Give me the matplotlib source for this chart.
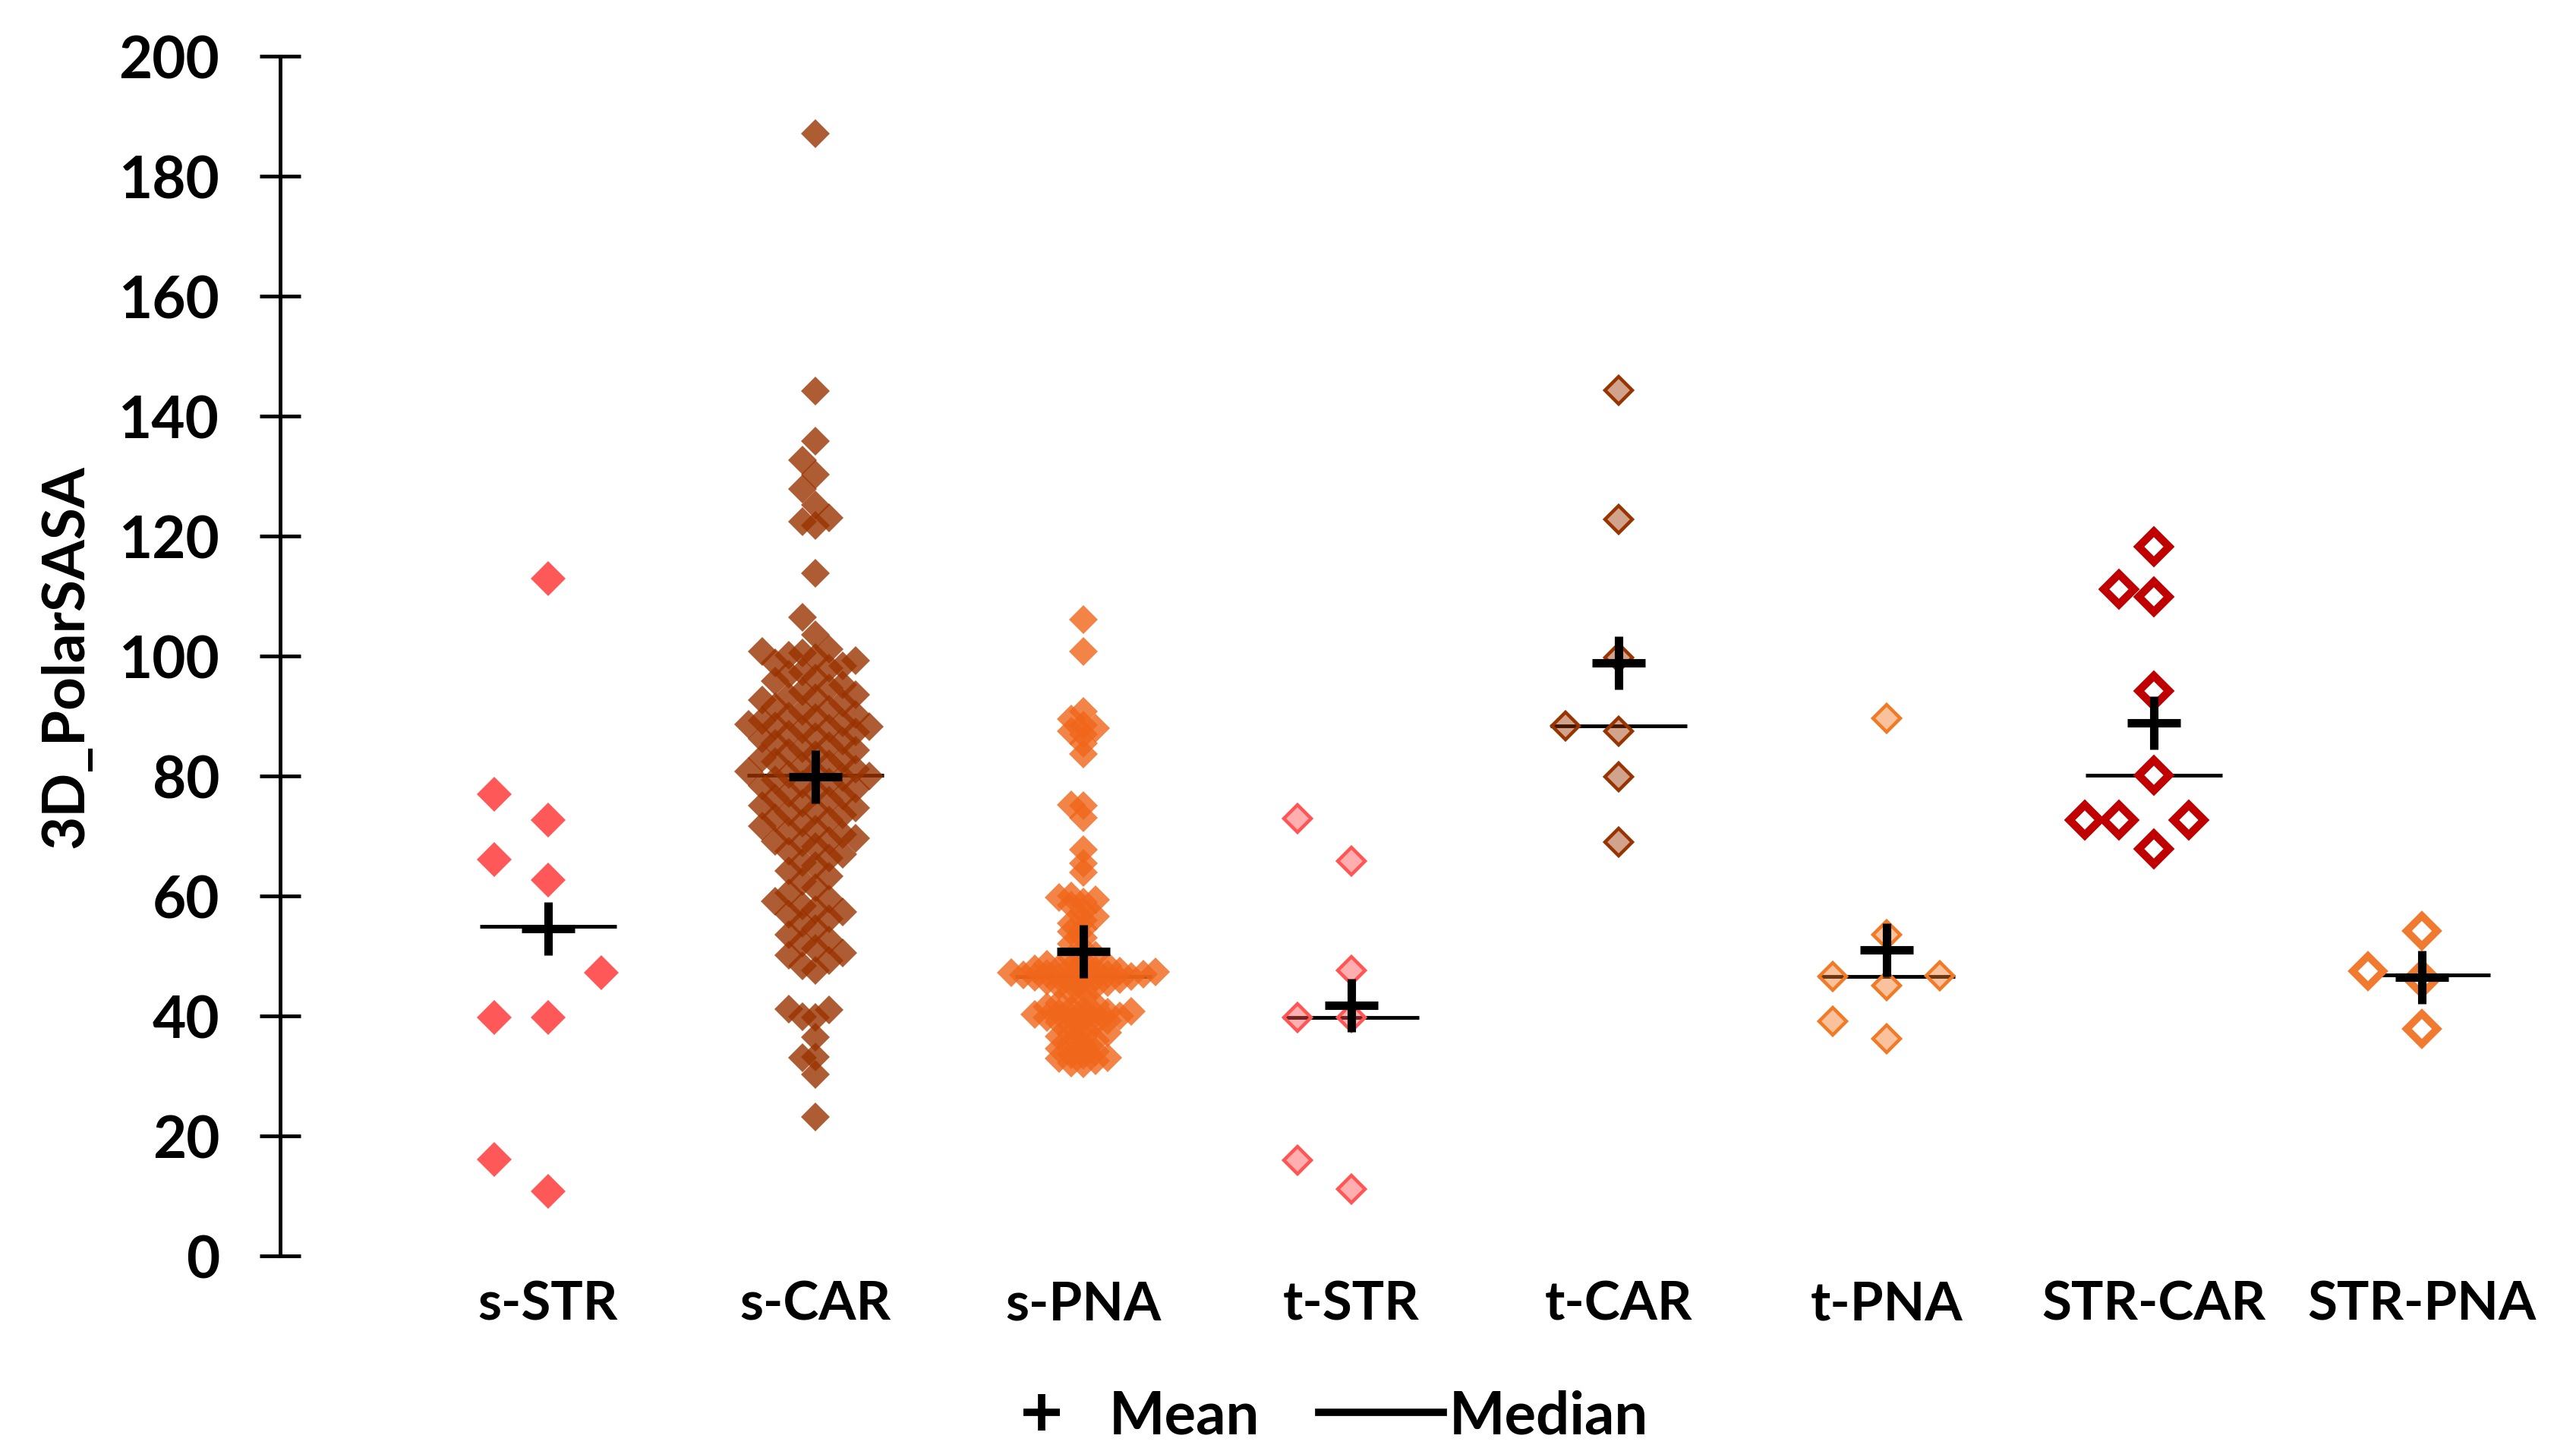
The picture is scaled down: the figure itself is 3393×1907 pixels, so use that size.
import numpy as np
import matplotlib
matplotlib.use('Agg')
import matplotlib.pyplot as plt
from matplotlib.lines import Line2D

plt.rcParams['font.family'] = ['Lato', 'DejaVu Sans']
plt.rcParams['font.weight'] = 'bold'

categories = ['s-STR', 's-CAR', 's-PNA', 't-STR', 't-CAR', 't-PNA', 'STR-CAR', 'STR-PNA']

s_str = [112.9, 77.0, 72.7, 66.1, 62.6, 47.2, 39.8, 39.8, 16.1, 10.8]

s_car = [187.1, 144.2, 135.8, 132.7, 130.3, 127.8, 125.2, 123.0, 122.4, 121.8, 113.8, 106.5, 103.6,
         101.2, 100.8, 100.5, 100.1, 99.7, 99.2, 98.8, 98.3, 98.0, 97.4, 96.9, 96.3, 95.8, 95.2,
         94.7, 94.1, 93.6, 93.3, 93.0, 92.6, 92.1, 91.5, 91.2, 90.8, 90.3, 90.0,
         89.7, 89.3, 88.9, 88.6, 88.4, 88.2, 88.0, 87.7, 87.3, 87.0, 86.6, 86.2, 85.8, 85.4, 85.0,
         84.6, 84.3, 83.9, 83.5, 83.1, 82.7, 82.4, 82.0, 81.6, 81.2, 80.8, 80.5, 80.2, 80.0,
         79.7, 79.4, 79.0, 78.6, 78.3, 77.9, 77.5, 77.1, 76.7, 76.3, 75.9, 75.5, 75.1, 74.7,
         74.3, 73.9, 73.5, 73.0, 72.6, 72.2, 71.7, 71.2, 70.7, 70.2,
         69.6, 69.3, 69.1, 68.8, 68.2, 67.5, 67.0, 66.3, 65.6, 65.0, 64.2, 63.3, 62.4, 61.4, 60.5,
         59.5, 59.1, 58.4, 57.7, 57.3, 56.9, 56.2, 55.4, 54.5, 53.6, 52.6, 52.2, 51.3, 50.5, 50.1,
         49.2, 48.3, 47.6,
         41.1, 41.0, 39.9, 39.8, 36.5, 33.2, 33.0, 30.2, 23.2]

s_pna = [106.1, 100.7, 90.8, 89.5, 88.5, 88.0, 87.5, 87.0, 85.5, 83.7, 75.2, 75.0, 73.0,
         67.7, 65.5, 63.9,
         60.0, 59.7, 59.4, 59.0, 58.5, 57.5, 56.6, 56.0, 55.4, 54.5, 54.0, 53.1, 52.0, 51.0, 50.1,
         49.6, 49.0, 48.6, 48.4, 48.1, 48.0, 47.8, 47.6, 47.5, 47.4, 47.3, 47.2, 47.1, 47.0,
         46.9, 46.8, 46.7, 46.6, 46.5, 46.4, 46.3, 46.1, 46.0, 45.8, 45.6, 45.4, 45.1, 44.9,
         44.5, 44.0,
         43.0, 42.2, 41.9, 41.5, 41.2, 41.0, 40.8, 40.6, 40.5, 40.3, 40.2, 40.0, 39.9, 39.7,
         39.5, 39.3, 39.0, 38.8, 38.5, 38.0, 37.2, 36.9, 36.6, 36.4, 36.0, 35.5, 35.0, 34.5,
         34.0, 33.6, 33.4, 33.1, 32.9, 32.5, 32.2, 32.0]

t_str = [72.9, 65.8, 47.6, 39.7, 39.7, 15.9, 11.1]
t_car = [144.3, 122.8, 99.7, 88.4, 87.5, 79.9, 69.0]
t_pna = [89.6, 53.6, 46.7, 46.6, 45.0, 39.1, 36.2]
str_car = [118.2, 111.2, 109.9, 94.2, 80.1, 72.7, 72.7, 72.7, 67.8]
str_pna = [54.2, 47.5, 46.2, 37.8]

series = [s_str, s_car, s_pna, t_str, t_car, t_pna, str_car, str_pna]

# marker look per group: face, edge, size, edge width, swarm step, swarm row height
styles = [
    dict(fc=(1.0, 0.31, 0.31, 0.95), ec='none', ms=23, mew=0, step=0.2, rowh=7.5),
    dict(fc=(0.6, 0.2, 0.0, 0.8), ec='none', ms=19.5, mew=0, step=0.05, rowh=3.0),
    dict(fc=(0.94, 0.40, 0.10, 0.8), ec='none', ms=19, mew=0, step=0.045, rowh=1.3),
    dict(fc=(1.0, 0.31, 0.31, 0.45), ec='#ff5555', ms=18, mew=3.2, step=0.2, rowh=7.5),
    dict(fc=(0.6, 0.2, 0.0, 0.45), ec='#993300', ms=18, mew=3.2, step=0.2, rowh=7.5),
    dict(fc=(0.95, 0.47, 0.15, 0.45), ec='#f07a25', ms=18, mew=3.2, step=0.2, rowh=7.5),
    dict(fc='white', ec='#c00000', ms=20, mew=7.5, step=0.13, rowh=7.5),
    dict(fc='white', ec='#f07a30', ms=20, mew=7, step=0.2, rowh=7.5),
]


def swarm_offsets(vals, step, rowh):
    vals = np.asarray(vals, dtype=float)
    order = np.argsort(vals, kind='stable')
    slots = np.zeros(len(vals), dtype=int)
    placed = []
    for i in order:
        k = 0
        while True:
            n = (k + 1) // 2
            slot = -n if k % 2 else n
            busy = any(abs(vals[j] - vals[i]) < rowh and slots[j] == slot for j in placed)
            if not busy:
                break
            k += 1
        slots[i] = slot
        placed.append(i)
    return slots * step


fig = plt.figure(figsize=(33.93, 19.08), dpi=100)
ax = fig.add_axes([0.1088, 0.1326, 0.8912, 0.8281])

for i, (vals, st) in enumerate(zip(series, styles)):
    pos = i + 1
    offs = swarm_offsets(vals, st['step'], st['rowh'])
    ax.plot(pos + offs, vals, ls='none', marker='D', ms=st['ms'],
            markerfacecolor=st['fc'], markeredgecolor=st['ec'], markeredgewidth=st['mew'],
            zorder=3, clip_on=False)
    med = np.median(vals)
    ax.plot([pos - 0.255, pos + 0.255], [med, med], color='black', lw=3.5,
            solid_capstyle='butt', zorder=2)
    ax.plot(pos, np.mean(vals), ls='none', marker='+', ms=50, mew=8,
            color='black', zorder=5, clip_on=False)

ax.set_xlim(0, 8.576)
ax.set_ylim(0, 200)
ax.set_yticks(np.arange(0, 201, 20))
ax.set_xticks(range(1, 9))
ax.set_xticklabels(categories, fontsize=51, fontweight='bold')
ax.tick_params(axis='x', length=0, pad=22)
ax.tick_params(axis='y', direction='inout', length=39, width=3.5, pad=38, labelsize=55)
for lab in ax.get_yticklabels():
    lab.set_fontweight('bold')

for side in ['top', 'right', 'bottom']:
    ax.spines[side].set_visible(False)
ax.spines['left'].set_linewidth(3.5)

fig.text(87 / 3393, 1 - 865 / 1908, '3D_PolarSASA', rotation=90, ha='center', va='center',
         fontsize=55, fontweight='bold')

handles = [Line2D([], [], ls='none', marker='+', ms=35, mew=7, color='black'),
           Line2D([], [], color='black', lw=7)]
fig.legend(handles, ['Mean', 'Median'], loc='center', bbox_to_anchor=(0.51, 0.022),
           ncol=2, frameon=False, prop=dict(size=56, weight='bold'),
           handlelength=2.1, handletextpad=0.1, columnspacing=1.0, borderpad=0)

fig.savefig('out.png', dpi=100)
